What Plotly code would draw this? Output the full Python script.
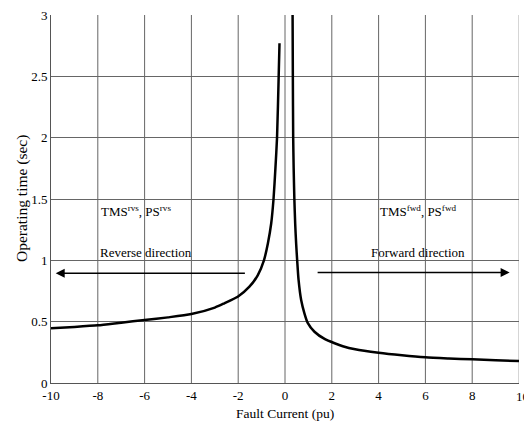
import plotly.graph_objects as go

# Reverse-direction branch (negative fault current)
rev_current = [-10, -9, -8, -7, -6, -5, -4, -3, -2.59, -2.02, -1.52, -1.16, -0.90, -0.73, -0.59, -0.49, -0.41, -0.34, -0.27, -0.235]
rev_time = [0.446, 0.457, 0.47, 0.492, 0.513, 0.535, 0.562, 0.615, 0.65, 0.703, 0.785, 0.88, 1.0, 1.14, 1.30, 1.50, 1.75, 2.0, 2.5, 2.77]

# Forward-direction branch (positive fault current)
fwd_current = [0.32, 0.335, 0.35, 0.37, 0.40, 0.435, 0.475, 0.52, 0.58, 0.69, 0.83, 0.97, 1.26, 1.69, 2.12, 2.47, 3, 4, 5, 6, 7, 8, 9, 10]
fwd_time = [3.2, 2.5, 2.0, 1.75, 1.50, 1.30, 1.14, 1.0, 0.84, 0.676, 0.568, 0.49, 0.418, 0.359, 0.324, 0.30, 0.275, 0.247, 0.226, 0.209, 0.20, 0.193, 0.186, 0.179]

x_ticks = [-10, -8, -6, -4, -2, 0, 2, 4, 6, 8, 10]
y_ticks = [0, 0.5, 1, 1.5, 2, 2.5, 3]
y_tick_labels = ["0", "0.5", "1", "1.5", "2", "2.5", "3"]

font_family = "Liberation Serif"

fig = go.Figure()
for xs, ys in ((rev_current, rev_time), (fwd_current, fwd_time)):
    fig.add_trace(go.Scatter(x=xs, y=ys, mode="lines",
                             line=dict(color="black", width=2.5, shape="spline", smoothing=0.6),
                             showlegend=False, hoverinfo="skip"))

# Direction arrows
fig.add_annotation(x=-9.8, y=0.894, ax=-1.65, ay=0.894, xref="x", yref="y", axref="x", ayref="y",
                   text="", showarrow=True, arrowhead=2, arrowsize=1.2, arrowwidth=1.5, arrowcolor="black")
fig.add_annotation(x=9.6, y=0.90, ax=1.33, ay=0.90, xref="x", yref="y", axref="x", ayref="y",
                   text="", showarrow=True, arrowhead=2, arrowsize=1.2, arrowwidth=1.5, arrowcolor="black")

# Labels
labels = [
    (-6.35, 1.40, "TMS<sup>rvs</sup>, PS<sup>rvs</sup>"),
    (-5.96, 1.06, "Reverse direction"),
    (5.67, 1.40, "TMS<sup>fwd</sup>, PS<sup>fwd</sup>"),
    (5.7, 1.06, "Forward direction"),
]
for lx, ly, lt in labels:
    fig.add_annotation(x=lx, y=ly, text=lt, showarrow=False, xref="x", yref="y",
                       font=dict(family=font_family, size=13, color="black"))

# Last x tick label (partly cut at the right edge like the reference)
fig.add_annotation(x=x_ticks[-1], y=0, xref="x", yref="paper", text=str(x_ticks[-1]),
                   showarrow=False, yanchor="top", yshift=-4, xshift=3,
                   font=dict(family=font_family, size=13, color="black"))

# Axis titles as annotations for precise placement
fig.add_annotation(x=0.5, y=0, xref="paper", yref="paper", text="Fault Current (pu)",
                   showarrow=False, yanchor="top", yshift=-21,
                   font=dict(family=font_family, size=13.5, color="black"))
fig.add_annotation(x=0, y=0.5, xref="paper", yref="paper", text="Operating time (sec)",
                   showarrow=False, textangle=-90, xanchor="center", xshift=-29,
                   font=dict(family=font_family, size=15.5, color="black"))

fig.update_layout(
    width=524, height=424,
    margin=dict(l=51, r=5, t=15, b=41),
    paper_bgcolor="white", plot_bgcolor="white",
    font=dict(family=font_family, size=13, color="black"),
)
fig.update_xaxes(range=[-10, 10], tickvals=x_ticks[:-1], ticktext=[str(v) for v in x_ticks[:-1]],
                 showgrid=False, zeroline=False,
                 showline=True, linecolor="#555555", linewidth=1, ticks="",
                 tickfont=dict(family=font_family, size=13))
fig.update_yaxes(range=[0, 3], tickvals=y_ticks, ticktext=y_tick_labels,
                 showgrid=True, gridcolor="#666666", gridwidth=1, zeroline=False,
                 showline=True, linecolor="#555555", linewidth=1, ticks="",
                 tickfont=dict(family=font_family, size=13))
# vertical grid lines at every x tick (including the right edge)
for xv in x_ticks[1:]:
    fig.add_vline(x=xv, line=dict(color="#666666" if xv < 10 else "#aaaaaa", width=1), layer="below")

fig.write_html("out.html", config={"displayModeBar": False},
               post_script="document.body.style.margin='0';document.body.style.overflow='hidden';")
